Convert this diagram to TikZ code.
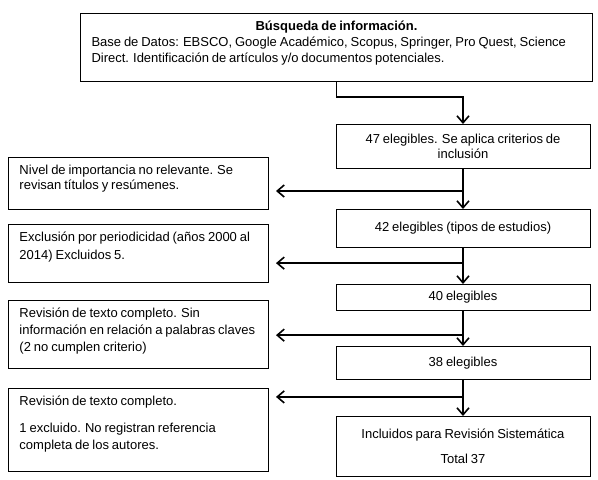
\documentclass[tikz,border=0pt]{standalone}
\usepackage{fontspec}
\setmainfont{Liberation Sans}[WordSpace=0.8]
\usetikzlibrary{arrows.meta,positioning,calc}

\newcommand{\toptext}[3]{\parbox[c][#1][t]{#2}{#3}}

\begin{document}
\begin{tikzpicture}[
  x=1pt, y=-1pt,
  note/.style={draw, line width=1pt, anchor=north west, inner xsep=11pt, inner ysep=7.5pt,
               font=\fontsize{13}{17}\selectfont},
  stepbox/.style={draw, line width=1pt, minimum width=254pt, align=center, inner sep=3pt,
                  font=\fontsize{13}{15}\selectfont},
  link/.style={-{Straight Barb[length=7pt,width=12pt]}, line width=1.6pt}
]
\useasboundingbox (0,0) rectangle (598,480);

\node[note, font=\fontsize{13}{16}\selectfont] (busq) at (80,13)
  {\toptext{53pt}{490pt}{\centering\textbf{Búsqueda de información.}\par\raggedright
   Base de Datos: EBSCO, Google Académico, Scopus, Springer, Pro Quest, Science\\
   Direct. Identificación de artículos y/o documentos potenciales.}};

\node[stepbox, minimum height=44pt, anchor=north] (e47) at (463,124)
  {47 elegibles. Se aplica criterios de\\inclusión};
\node[stepbox, minimum height=38pt, below=40pt of e47] (e42) {42 elegibles (tipos de estudios)};
\node[stepbox, minimum height=26pt, below=36pt of e42] (e40) {40 elegibles};
\node[stepbox, minimum height=33pt, below=35pt of e40] (e38) {38 elegibles};
\node[stepbox, minimum height=60pt, below=36pt of e38] (fin)
  {Incluidos para Revisión Sistemática\\[10pt]Total 37};

\node[note, font=\fontsize{13}{15.5}\selectfont] (n1) at (8,157)
  {\toptext{37pt}{238pt}{\raggedright Nivel de importancia no relevante. Se\\
   revisan títulos y resúmenes.}};
\node[note, font=\fontsize{13}{18}\selectfont] (n2) at (8,224)
  {\toptext{43pt}{238pt}{\raggedright Exclusión por periodicidad (años 2000 al\\
   2014) Excluidos 5.}};
\node[note] (n3) at (8,300)
  {\toptext{53pt}{238pt}{\raggedright Revisión de texto completo. Sin\\
   información en relación a palabras claves\\(2 no cumplen criterio)}};
\node[note] (n4) at (8,388)
  {\toptext{68pt}{238pt}{\raggedright Revisión de texto completo.\\[10pt]
   1 excluido. No registran referencia\\completa de los autores.}};

% main flow
\draw[link] (busq.south) -- ++(0,15) -| (e47.north);
\draw[link] (e47) -- (e42);
\draw[link] (e42) -- (e40);
\draw[link] (e40) -- (e38);
\draw[link] (e38) -- (fin);

% exclusions
\coordinate (k1) at ($(e47.south)!0.55!(e42.north)$);
\coordinate (k2) at ($(e42.south)!0.42!(e40.north)$);
\coordinate (k3) at ($(e40.south)!0.69!(e38.north)$);
\coordinate (k4) at ($(e38.south)!0.47!(fin.north)$);
\draw[link, shorten >=7pt] (k1) -- (k1 -| n1.east);
\draw[link, shorten >=7pt] (k2) -- (k2 -| n2.east);
\draw[link, shorten >=7pt] (k3) -- (k3 -| n3.east);
\draw[link, shorten >=7pt] (k4) -- (k4 -| n4.east);
\end{tikzpicture}
\end{document}
